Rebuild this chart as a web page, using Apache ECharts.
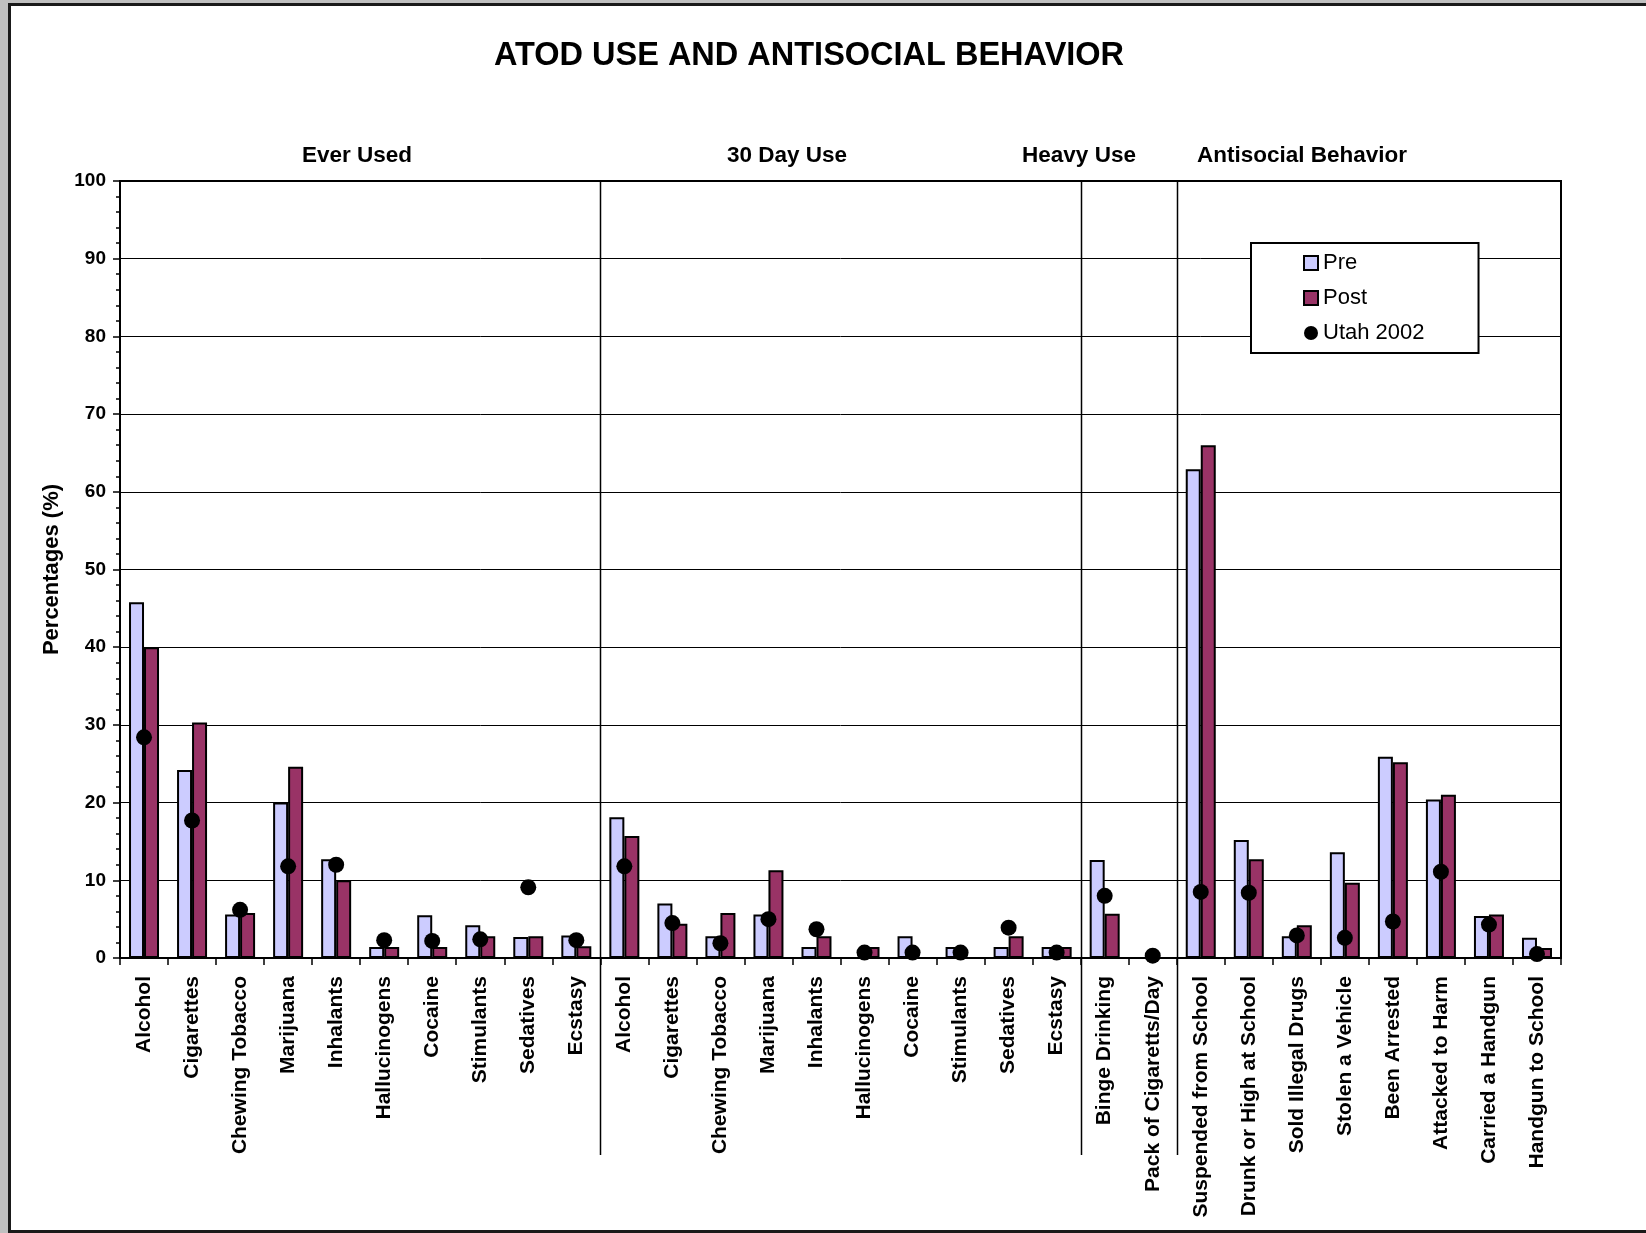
<!DOCTYPE html>
<html>
<head>
<meta charset="utf-8">
<title>ATOD Use and Antisocial Behavior</title>
<script src="https://cdn.jsdelivr.net/npm/echarts@6/dist/echarts.min.js"></script>
<style>
  html, body { margin: 0; padding: 0; background: #c0c0c0; overflow: hidden; }
  #frame {
    position: absolute; left: 8px; top: 3px;
    width: 1635px; height: 1224px;
    background: #fff;
    border-left: 3px solid #1a1a1a;
    border-top: 3px solid #1a1a1a;
    border-bottom: 3px solid #1a1a1a;
  }
  #chart { position: absolute; left: 0; top: 0; width: 1646px; height: 1233px; }
</style>
</head>
<body>
<div id="frame"></div>
<div id="chart"></div>
<script>
// Category groups along the x axis
const everUsedItems = ['Alcohol', 'Cigarettes', 'Chewing Tobacco', 'Marijuana', 'Inhalants',
  'Hallucinogens', 'Cocaine', 'Stimulants', 'Sedatives', 'Ecstasy'];
const thirtyDayItems = ['Alcohol', 'Cigarettes', 'Chewing Tobacco', 'Marijuana', 'Inhalants',
  'Hallucinogens', 'Cocaine', 'Stimulants', 'Sedatives', 'Ecstasy'];
const heavyUseItems = ['Binge Drinking', 'Pack of Cigaretts/Day'];
const antisocialItems = ['Suspended from School', 'Drunk or High at School', 'Sold Illegal Drugs',
  'Stolen a Vehicle', 'Been Arrested', 'Attacked to Harm', 'Carried a Handgun', 'Handgun to School'];

const groupNames = ['Ever Used', '30 Day Use', 'Heavy Use', 'Antisocial Behavior'];

// Percentages, in the same order as the categories above
const preValues = [
  45.8, 24.2, 5.6, 20.0, 12.7, 1.4, 5.5, 4.2, 2.7, 2.9,
  18.1, 7.0, 2.8, 5.6, 1.4, 0, 2.8, 1.4, 1.4, 1.4,
  12.6, 0,
  62.9, 15.2, 2.8, 13.6, 25.9, 20.4, 5.4, 2.6
];
const postValues = [
  40.0, 30.3, 5.8, 24.6, 10.0, 1.4, 1.4, 2.8, 2.8, 1.5,
  15.7, 4.4, 5.8, 11.3, 2.8, 1.4, 0, 0, 2.8, 1.4,
  5.7, 0,
  66.0, 12.7, 4.2, 9.7, 25.2, 21.0, 5.6, 1.3
];
const utahValues = [
  28.4, 17.7, 6.2, 11.8, 12.0, 2.3, 2.2, 2.4, 9.1, 2.3,
  11.8, 4.5, 1.9, 5.0, 3.7, 0.7, 0.7, 0.7, 3.9, 0.7,
  8.0, 0.3,
  8.5, 8.4, 2.9, 2.6, 4.7, 11.1, 4.3, 0.5
];

const yTicks = [0, 10, 20, 30, 40, 50, 60, 70, 80, 90, 100];

const categories = [].concat(everUsedItems, thirtyDayItems, heavyUseItems, antisocialItems);
const groupSizes = [everUsedItems.length, thirtyDayItems.length, heavyUseItems.length, antisocialItems.length];

const FONT = '"Liberation Sans", Arial, sans-serif';

const chart = echarts.init(document.getElementById('chart'), null, { renderer: 'canvas' });

const option = {
  animation: false,
  backgroundColor: 'transparent',
  textStyle: { fontFamily: FONT, color: '#000' },
  grid: {
    left: 120, right: 85, top: 181, bottom: 275,
    show: true, borderColor: '#000', borderWidth: 2, backgroundColor: 'transparent'
  },
  legend: {
    orient: 'vertical',
    left: 1251, top: 243,
    padding: [9, 54, 9, 52],
    itemWidth: 14, itemHeight: 14, itemGap: 13,
    backgroundColor: '#fff', borderColor: '#000', borderWidth: 2, borderRadius: 0,
    textStyle: { fontFamily: FONT, fontSize: 22, color: '#000', padding: [0, 0, 0, 0] },
    data: [
      { name: 'Pre', icon: 'rect' },
      { name: 'Post', icon: 'rect' },
      { name: 'Utah 2002', icon: 'circle' }
    ]
  },
  xAxis: {
    type: 'category',
    data: categories,
    boundaryGap: true,
    axisLine: { show: true, lineStyle: { color: '#000', width: 2 } },
    axisTick: { show: true, alignWithLabel: false, interval: 0, length: 7, lineStyle: { color: '#000', width: 1.5 } },
    axisLabel: {
      interval: 0, rotate: 90, margin: 18,
      fontFamily: FONT, fontSize: 21, fontWeight: 'bold', color: '#000'
    },
    splitLine: { show: false }
  },
  yAxis: {
    type: 'value',
    min: yTicks[0], max: yTicks[yTicks.length - 1], interval: 10,
    name: 'Percentages (%)',
    nameLocation: 'middle', nameRotate: 90, nameGap: 57,
    nameTextStyle: { fontFamily: FONT, fontSize: 22, fontWeight: 'bold', color: '#000' },
    axisLine: { show: true, lineStyle: { color: '#000', width: 2 } },
    axisTick: { show: true, length: 7, lineStyle: { color: '#000', width: 1.5 } },
    minorTick: { show: true, splitNumber: 5, length: 4, lineStyle: { color: '#000', width: 1.5 } },
    axisLabel: { margin: 14, fontFamily: FONT, fontSize: 19, fontWeight: 'bold', color: '#000' },
    splitLine: { show: true, lineStyle: { color: '#000', width: 1 } }
  },
  series: [
    {
      name: 'Pre', type: 'bar', data: preValues,
      barWidth: 15, barGap: '0%',
      itemStyle: { color: '#ccccff', borderColor: '#000', borderWidth: 2 },
      z: 2
    },
    {
      name: 'Post', type: 'bar', data: postValues,
      barWidth: 15, barGap: '0%',
      itemStyle: { color: '#993366', borderColor: '#000', borderWidth: 2 },
      z: 2
    },
    {
      name: 'Utah 2002', type: 'scatter', data: utahValues,
      symbol: 'circle', symbolSize: 16,
      itemStyle: { color: '#000', opacity: 1 },
      z: 3
    }
  ]
};

chart.setOption(option);

// Vertical separators between the category groups, placed on the category boundaries
const gridRect = chart.getModel().getComponent('grid', 0).coordinateSystem.getRect();
const sepBottom = 1155;
const graphics = [];
let boundary = 0;
for (let g = 0; g < groupSizes.length - 1; g++) {
  boundary += groupSizes[g];
  const xa = chart.convertToPixel({ xAxisIndex: 0 }, boundary - 1);
  const xb = chart.convertToPixel({ xAxisIndex: 0 }, boundary);
  const x = Math.round((xa + xb) / 2) + 0.5;
  graphics.push({
    type: 'line', z: 10, silent: true,
    shape: { x1: x, y1: gridRect.y, x2: x, y2: sepBottom },
    style: { stroke: '#000', lineWidth: 1.5 }
  });
}

// Chart title and the group headings above the plot
graphics.push({
  type: 'text', x: 809, y: 56, z: 10,
  style: {
    text: 'ATOD USE AND ANTISOCIAL BEHAVIOR',
    font: 'bold 32.5px ' + FONT, fill: '#000',
    textAlign: 'center', textVerticalAlign: 'middle'
  }
});
const groupLabelX = [357, 787, 1079, 1302];
groupNames.forEach(function (name, i) {
  graphics.push({
    type: 'text', x: groupLabelX[i], y: 156, z: 10,
    style: {
      text: name, font: 'bold 22.5px ' + FONT, fill: '#000',
      textAlign: 'center', textVerticalAlign: 'middle'
    }
  });
});

chart.setOption({ graphic: graphics });
</script>
</body>
</html>
